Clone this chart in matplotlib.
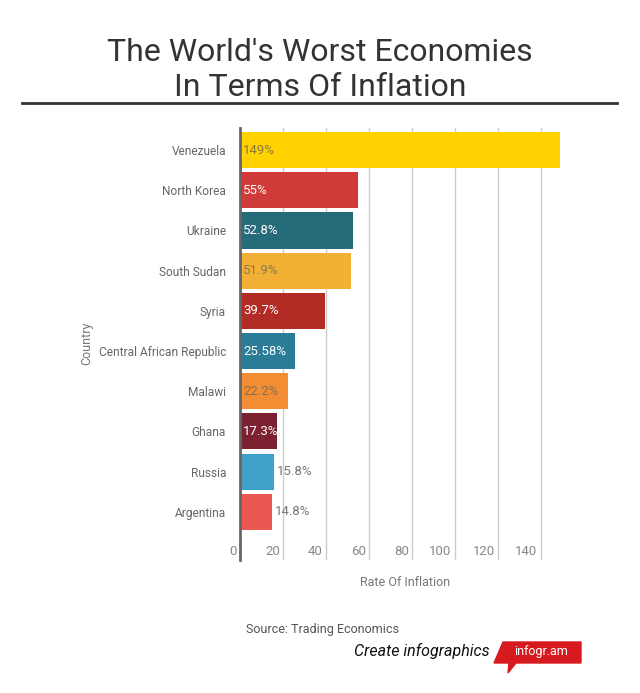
import matplotlib
matplotlib.use('Agg')
import matplotlib.pyplot as plt
import matplotlib.transforms as mtrans
from matplotlib.patches import Polygon

plt.rcParams['font.family'] = ['Roboto', 'DejaVu Sans']

countries = ['Venezuela', 'North Korea', 'Ukraine', 'South Sudan', 'Syria',
             'Central African Republic', 'Malawi', 'Ghana', 'Russia', 'Argentina']
inflation = [149, 55, 52.8, 51.9, 39.7, 25.58, 22.2, 17.3, 15.8, 14.8]
value_labels = ['149%', '55%', '52.8%', '51.9%', '39.7%', '25.58%', '22.2%',
                '17.3%', '15.8%', '14.8%']
colors = ['#FFD200', '#D03A38', '#266B79', '#F2B134', '#B22B24',
          '#2A7C97', '#F28D33', '#7C2131', '#3FA1C9', '#EB5851']
label_colors = ['#8a7a3a', 'white', 'white', '#8a7a50', 'white',
                'white', '#8a7050', 'white', '#777777', '#777777']
inside = [True, True, True, True, True, True, True, True, False, False]
xticks = [0, 20, 40, 60, 80, 100, 120, 140]

fig = plt.figure(figsize=(6.4, 6.93), dpi=100)
ax = fig.add_axes([240/640, 1-560/693, 320/640, 432/693])

ypos = list(range(len(countries)))[::-1]
ax.barh(ypos, inflation, height=0.9, color=colors, zorder=2)
ax.set_xlim(0, 149)
ax.set_ylim(-1.2, 9.55)

for x in xticks[1:]:
    ax.axvline(x, color='#cccccc', lw=1, zorder=1)

for s in ['top', 'right', 'bottom']:
    ax.spines[s].set_visible(False)
ax.spines['left'].set_color('#666666')
ax.spines['left'].set_linewidth(2)
ax.spines['left'].set_zorder(3)
ax.set_xticks([])
ax.set_yticks(ypos)
ax.set_yticklabels(countries, fontsize=8.6, color='#666666')
ax.tick_params(axis='y', length=0, pad=10)

left_off = mtrans.offset_copy(ax.transData, fig=fig, x=-3, y=0, units='dots')
for x in xticks:
    ax.text(x, -0.98, str(x), ha='right', va='center', fontsize=9.5,
            color='#888888', transform=left_off)

in_off = mtrans.offset_copy(ax.transData, fig=fig, x=3, y=0, units='dots')
for y, v, lab, c, ins in zip(ypos, inflation, value_labels, label_colors, inside):
    xx = 0 if ins else v
    ax.text(xx, y, lab, ha='left', va='center', fontsize=9.5, color=c,
            transform=in_off, zorder=4)

fig.text(87/640, 1-343/693, 'Country', rotation=90, ha='center', va='center',
         fontsize=9, color='#777777')
fig.text(405/640, 1-582/693, 'Rate Of Inflation', ha='center', va='center',
         fontsize=9, color='#777777')

fig.text(0.5, 1-70/693, "The World's Worst Economies\nIn Terms Of Inflation",
         ha='center', va='center', fontsize=23, color='#333333',
         linespacing=1.25)
fig.add_artist(plt.Line2D([22/640, 617/640], [1-103/693, 1-103/693],
                          color='#333333', lw=2))

fig.text(246/640, 1-630/693, 'Source: Trading Economics', ha='left', va='center',
         fontsize=9, color='#555555')
fig.text(490/640, 1-651/693, 'Create infographics', ha='right', va='center',
         fontsize=11.5, style='italic', color='#111111')
banner = Polygon([[503/640, 1-642/693], [581/640, 1-642/693], [581/640, 1-663/693],
                  [516/640, 1-663/693], [508/640, 1-673/693], [509/640, 1-663/693],
                  [494/640, 1-663/693]], closed=True, transform=fig.transFigure,
                 color='#D71A1F')
fig.add_artist(banner)
fig.text(541/640, 1-652/693, 'infogr.am', ha='center', va='center',
         fontsize=9, color='white')

fig.savefig('out.png', dpi=100)
